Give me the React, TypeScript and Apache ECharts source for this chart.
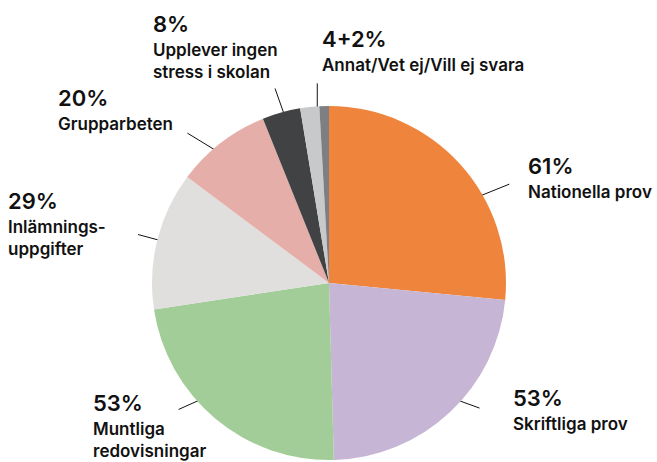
import React, { useEffect, useRef } from 'react';
import * as echarts from 'echarts';

const categories = [
  'Nationella prov',
  'Skriftliga prov',
  'Muntliga redovisningar',
  'Inlämningsuppgifter',
  'Grupparbeten',
  'Upplever ingen stress i skolan',
  'Annat',
  'Vet ej/Vill ej svara',
];
const values = [61, 53, 53, 29, 20, 8, 4, 2];
const pctLabels = ['61%', '53%', '53%', '29%', '20%', '8%', '4+2%', ''];
const nameLabels = [
  ['Nationella prov'],
  ['Skriftliga prov'],
  ['Muntliga', 'redovisningar'],
  ['Inlämnings-', 'uppgifter'],
  ['Grupparbeten'],
  ['Upplever ingen', 'stress i skolan'],
  ['Annat/Vet ej/Vill ej svara'],
  [],
];
const colors = ['#EF843D', '#C6B5D4', '#A2CD98', '#E0DFDE', '#E5AEA9', '#414244', '#C8C9CB', '#7E7F82'];

// layout (label top-left positions) and label-line geometry [angle shift°, tilt°, length, inner radius]
const labelPos = [[528, 151], [513, 383], [93, 388], [8, 186], [58, 83], [153, 9], [322, 24]];
const lineGeom = [
  [11.9, 8.4, 40, 166],
  [-3.5, -23.5, 32, 166],
  [7, 19, 32, 166],
  [0, 1, 31, 166],
  [-2, -19, 42, 166],
  [1, -4.8, 36, 166],
  [2.3, 4, 30, 170],
];
const R = 177;
const FONT = 'Inter, Roboto, "Liberation Sans", Arial, sans-serif';

export default function App() {
  const ref = useRef<HTMLDivElement>(null);
  useEffect(() => {
    if (!ref.current) return;
    const chart = echarts.init(ref.current, null, { renderer: 'svg' });
    const data = categories.map((name, i) => ({
      name,
      value: values[i],
      itemStyle: { color: colors[i] },
      label: { show: pctLabels[i] !== '' },
      labelLine: { show: pctLabels[i] !== '' },
    }));
    chart.setOption({
      animation: false,
      series: [
        {
          type: 'pie',
          center: [329, 283],
          radius: [0, R],
          startAngle: 90,
          clockwise: true,
          avoidLabelOverlap: false,
          data,
          itemStyle: { borderWidth: 0 },
          label: {
            position: 'outside',
            fontFamily: FONT,
            color: '#111',
            formatter: (p: any) => {
              const i = p.dataIndex;
              const lines = ['{p|' + pctLabels[i] + '}'];
              nameLabels[i].forEach((n) => lines.push('{n|' + n + '}'));
              return lines.join('\n');
            },
            rich: {
              p: { fontSize: 22, lineHeight: 30, fontWeight: 600, fontFamily: FONT, color: '#111' },
              n: { fontSize: 17, lineHeight: 22, fontWeight: 600, fontFamily: FONT, color: '#111' },
            },
          },
          labelLine: {
            show: true,
            length: 10,
            length2: 10,
            lineStyle: { color: '#111', width: 1 },
          },
          labelLayout: (params: any) => {
            const i = params.dataIndex;
            if (i >= labelPos.length) return {};
            const out: any = {
              x: labelPos[i][0],
              y: labelPos[i][1],
              align: 'left',
              verticalAlign: 'top',
            };
            const pts = params.labelLinePoints;
            if (pts && pts.length >= 2) {
              const dx = pts[1][0] - pts[0][0];
              const dy = pts[1][1] - pts[0][1];
              const l = Math.hypot(dx, dy) || 1;
              const ux = dx / l;
              const uy = dy / l;
              const cx = pts[0][0] - R * ux;
              const cy = pts[0][1] - R * uy;
              const [shift, tilt, len, r1] = lineGeom[i];
              const th = Math.atan2(uy, ux) + (shift * Math.PI) / 180;
              const ix = cx + r1 * Math.cos(th);
              const iy = cy + r1 * Math.sin(th);
              const t2 = th + (tilt * Math.PI) / 180;
              const ox = ix + len * Math.cos(t2);
              const oy = iy + len * Math.sin(t2);
              out.labelLinePoints = [[ix, iy], [ox, oy], [ox, oy]];
            }
            return out;
          },
        },
      ],
    });
    return () => chart.dispose();
  }, []);
  return (
    <div
      ref={ref}
      style={{ position: 'absolute', left: 0, top: 0, width: 657, height: 462, background: '#fff' }}
    />
  );
}
